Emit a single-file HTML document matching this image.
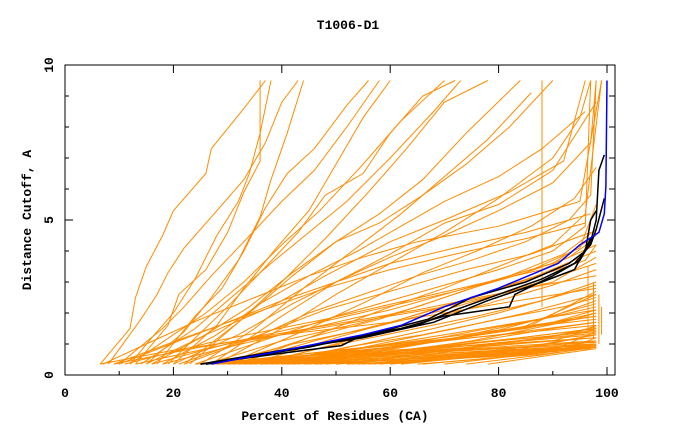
<!DOCTYPE html>
<html><head><meta charset="utf-8"><style>
html,body{margin:0;padding:0;background:#fff;}
svg{display:block;font-family:"Liberation Mono",monospace;font-weight:bold;font-size:13px;}
</style></head><body>
<svg id="chart" width="680" height="440" viewBox="0 0 680 440">
<text x="348" y="29" text-anchor="middle">T1006-D1</text>
<text x="335" y="420" text-anchor="middle">Percent of Residues (CA)</text>
<text transform="translate(31,220) rotate(-90)" text-anchor="middle">Distance Cutoff, A</text>
<g id="ticks"></g>
<g id="lines"></g>
<rect x="65" y="65" width="550" height="310" fill="none" stroke="#000" stroke-width="1"/>
</svg>
<script>
const xTicks=[0,20,40,60,80,100];
const xMinor=[10,30,50,70,90];
const yTicks=[0,5,10];
const yMinor=[1,2,3,4,6,7,8,9];
const orangeLines=[
[6.5,0.35,12,1.5,13,2.5,15,3.5,18,4.5,20,5.3,23,5.9,26,6.5,27,7.3,33,8.6,37,9.5],
[8,0.35,14,1.8,17,2.6,19,3.3,22,4.1,28,5.3,33,6.3,37,7.5,40,8.8,43,9.5],
[10,0.35,18,1.5,22,2.2,27,3.2,33,4.3,40,5.6,46,6.6,52,8,58,9.5],
[12,0.35,20,1.3,26,2.0,33,3.0,40,4.2,47,5.3,55,6.8,62,8.2,70,9.5],
[14,0.35,24,1.5,30,2.4,38,3.6,45,4.6,52,5.6,60,7,68,8.5,73,9.5],
[16,0.35,25,1.2,34,2.2,42,3.3,50,4.3,58,5.2,66,6.3,74,7.8,84,9.5],
[18,0.35,28,1.3,36,2.3,45,3.2,54,4.0,62,4.8,70,5.6,80,6.4,88,7.3,96,8.5],
[20,0.35,32,1.3,42,2.3,50,3.0,60,3.8,70,4.5,80,5.3,90,6.2,97,7.5,98,9.5],
[22,0.35,35,1.2,45,2,55,2.6,65,3.2,75,3.7,85,4.3,93,5,97,5.8,98,9.5],
[24,0.35,38,1.2,50,1.9,60,2.4,70,2.9,80,3.4,90,4,96,4.8,97,9.5],
[26,0.35,40,1.1,55,1.7,65,2.2,75,2.8,85,3.3,93,3.8,97,4.3],
[12,0.35,16,1.2,20,2.0,24,3.1,28,4.5,32,5.6,34,6.5,36,7.8,38,9.5],
[15,0.35,22,1.4,27,2.5,32,3.7,36,5.1,38,6.3,41,7.8,44,9.5],
[20,0.35,28,1.6,33,2.8,39,4.1,45,5.3,50,6.8,55,8.3,60,9.5],
[22,0.35,32,1.7,40,3,48,4.4,56,5.9,63,7.3,70,8.8,78,9.5],
[25,0.35,35,1.5,44,2.8,53,4,62,5.2,70,6.4,78,7.6,86,9.1],
[28,0.35,40,1.5,50,2.6,60,3.6,70,4.6,80,5.7,90,7,95,8.3,97,9.5],
[30,0.35,45,1.5,56,2.4,66,3.3,76,4,86,4.8,94,5.7,98,6.7],
[88,2.2,88,9.5],
[32,0.35,48,1.4,60,2.2,70,2.8,80,3.5,90,4.2,96,5.2,99,9.5],
[30,0.35,45,1.2,58,1.8,70,2.5,82,3.2,92,3.9,98,4.7],
[34,0.35,50,1.2,62,1.8,75,2.5,87,3.2,98,4.0],
[36,0.35,52,1.1,65,1.7,78,2.3,90,2.9,98,3.4],
[38,0.35,55,1.0,68,1.5,80,2.0,90,2.5,98,2.9],
[40,0.35,58,1.0,72,1.5,85,2.0,98,2.6],
[28,0.35,42,1.0,56,1.5,70,2.1,84,2.8,98,3.6],
[42,0.35,60,0.9,75,1.4,88,1.8,98,2.2],
[18,0.35,30,0.9,45,1.5,60,2.1,72,2.7,85,3.3,95,4.1,98,5.5],
[10,0.35,18,0.9,30,1.7,40,2.4,50,3.0,60,3.6,72,4.1,85,4.6,97,5.2],
[7,0.35,15,1.0,25,1.8,35,2.5,45,3.2,55,3.8,65,4.3,80,4.8,95,5.6,99,9.5],
[13,0.35,19,1.6,21,2.6,26,3.4,30,4.6,33,5.9,36,6.9,36,9.5],
[17,0.35,24,1.9,29,2.8,33,4.0,37,5.4,41,6.5,46,7.3,52,8.7,56,9.5],
[19,0.35,30,2.2,36,3.3,43,4.6,48,5.8,55,6.5,60,7.8,66,9.0,72,9.5],
[23,0.35,34,2.0,42,3.2,50,4.3,58,4.9,66,5.8,74,6.8,82,8.0,90,9.5],
[27,0.35,40,1.9,50,3.0,60,3.9,70,4.9,80,5.5,90,6.6,98,8.8],
[15,0.35,26,1.3,38,2.2,48,3.2,60,4.3,70,5.0,82,5.9,92,6.9,96,9.5],
[9,0.35,22,1.2,35,2.0,48,2.8,60,3.4,72,3.9,85,4.4,96,4.9],
[21,0.35,36,1.3,48,2.1,62,2.8,74,3.4,86,3.9,97,4.6],
[31,0.35,46,1.1,60,1.7,72,2.3,84,3.0,96,3.7,98,4.2],
[35,0.35,48,0.9,62,1.4,76,1.9,88,2.4,98,3.0],
[37,0.35,52,0.9,66,1.3,80,1.8,92,2.2,98,2.5],
[39,0.35,56,0.9,70,1.3,84,1.7,98,2.1],
[41,0.35,58,0.8,72,1.2,86,1.6,98,1.9],
[43,0.35,62,0.8,76,1.1,90,1.5,98,1.7],
[25,0.35,60,0.7,98,1.2],[27,0.35,65,0.8,98,1.5],[30,0.35,70,0.8,98,1.1],
[33,0.35,70,0.7,98,0.9],[36,0.35,75,0.7,98,1.0],[40,0.35,75,0.6,97,0.85],
[44,0.35,80,0.7,98,1.3],[48,0.35,85,0.8,98,1.0],[52,0.35,80,0.6,97,0.9],
[56,0.35,85,0.7,98,1.1],[60,0.35,90,0.8,98,1.4],[65,0.35,90,0.7,98,1.2],
[70,0.35,92,0.8,98,1.0],[26,0.35,55,0.8,80,1.3,98,1.7],[29,0.35,60,0.9,85,1.5,98,2.0],
[32,0.35,65,1.0,88,1.6,98,1.8],[35,0.35,70,1.1,90,1.7,98,2.1],[38,0.35,72,1.2,90,1.9,98,2.4],
[45,0.35,75,1.1,92,1.7,98,2.0],[50,0.35,80,1.0,95,1.4,98,1.6],[24,0.35,50,0.7,80,1.0,98,1.2],
[55,0.35,85,0.9,98,1.3],[62,0.35,88,0.8,98,1.1],[28,0.35,55,0.6,85,0.9,98,1.1],
[34,0.35,62,0.7,90,1.1,98,1.5],
[30,0.35,50,0.6,75,0.8,98,1.0],[32,0.35,52,0.65,78,0.85,98,1.05],[36,0.35,58,0.6,80,0.8,98,0.95],
[38,0.35,60,0.55,82,0.75,97,0.9],[42,0.35,64,0.6,85,0.8,98,1.0],[46,0.35,68,0.55,88,0.75,98,0.9],
[50,0.35,70,0.6,90,0.8,98,0.95],[54,0.35,74,0.6,92,0.85,98,1.0],[58,0.35,78,0.6,94,0.85,98,0.95],
[66,0.35,82,0.6,98,0.9],[74,0.35,88,0.65,98,0.9],[78,0.35,92,0.7,98,0.85],
[31,0.35,55,0.7,78,1.0,98,1.3],[37,0.35,60,0.75,80,1.1,98,1.4],[41,0.35,62,0.8,84,1.2,98,1.5],
[47,0.35,66,0.8,86,1.15,98,1.35],[53,0.35,70,0.8,88,1.2,98,1.45],[57,0.35,74,0.85,90,1.25,98,1.55],
[26,0.35,48,0.75,72,1.15,98,1.6],[28,0.35,50,0.8,75,1.25,98,1.9],[33,0.35,56,0.9,80,1.45,98,2.3],
[39,0.35,62,0.95,84,1.5,98,2.6],[44,0.35,66,1.0,86,1.6,98,2.7],
[98.5,1.0,98.5,2.6],[97.5,1.2,97.5,3.0],[96.5,1.5,96.5,3.5],[99,1.3,99,2.2],
[6.5,0.35,20,0.8,40,1.3,60,1.7,80,2.3,98,2.8],[9,0.35,25,0.9,45,1.5,65,2.1,85,2.8,98,3.2],
[13,0.35,30,1.0,50,1.6,70,2.2,90,3.0,98,3.8],[11,0.35,28,1.1,48,1.8,68,2.6,88,3.4,98,4.2],
[16,0.35,32,1.1,52,1.9,72,2.7,90,3.6,98,4.5]
];
const blackLines=[
[25,0.35,40,0.7,51,0.95,55,1.3,62,1.5,70,1.9,82,2.2,83,2.6,90,3.2,95,3.7,97,4.3,98,5,98.5,6.6,99.5,7.1],
[25,0.35,40,0.8,55,1.2,65,1.6,72,2.1,80,2.6,88,3.1,94,3.6,97,4.2,98,4.7,99.5,5.7],
[26,0.35,45,0.9,58,1.4,67,1.8,75,2.5,85,3.0,93,3.6,96,4.0,97,5.0,98,5.3],
[26,0.35,45,0.95,60,1.4,68,1.7,78,2.4,88,3.0,94,3.4,97,4.4]
];
const blueLine=[27,0.35,42,0.85,55,1.3,62,1.6,70,2.2,80,2.8,91,3.6,95,4.2,98.5,4.6,99.5,5.2,99.8,6.1,100,9.5];

const NS="http://www.w3.org/2000/svg";
function sx(v){return 65+v*5.42;}
function sy(v){return 375-v*31;}
const tg=document.getElementById('ticks');
function mk(tag,attrs,parent){const e=document.createElementNS(NS,tag);for(const k in attrs)e.setAttribute(k,attrs[k]);parent.appendChild(e);return e;}
xTicks.forEach(v=>{
  const t=mk('line',{x1:sx(v),x2:sx(v),y1:375,y2:367,stroke:'#000'},tg);
  
  
  const t2=mk('line',{x1:sx(v),x2:sx(v),y1:65,y2:73,stroke:'#000'},tg);
  
  
  const l=mk('text',{x:sx(v),y:397,'text-anchor':'middle'},tg);
  l.textContent=v;
  
  
});
xMinor.forEach(v=>{
  const t=mk('line',{x1:sx(v),x2:sx(v),y1:375,y2:371,stroke:'#000'},tg);
  
  
});
yTicks.forEach(v=>{
  const t=mk('line',{x1:65,x2:73,y1:sy(v),y2:sy(v),stroke:'#000'},tg);
  
  
  const t2=mk('line',{x1:607,x2:615,y1:sy(v),y2:sy(v),stroke:'#000'},tg);
  
  
  const l=mk('text',{transform:'translate(53,'+sy(v)+') rotate(-90)','text-anchor':'middle'},tg);
  l.textContent=v;
  
  
});
yMinor.forEach(v=>{
  const t=mk('line',{x1:65,x2:69,y1:sy(v),y2:sy(v),stroke:'#000'},tg);
  
  
  const t2=mk('line',{x1:609,x2:615,y1:sy(v),y2:sy(v),stroke:'#000'},tg);
  
  
});
const lg=document.getElementById('lines');
function pts(a){let s=[];for(let i=0;i<a.length;i+=2)s.push(sx(a[i]).toFixed(1)+','+sy(a[i+1]).toFixed(1));return s.join(' ');}
orangeLines.forEach(a=>{
  const p=mk('polyline',{points:pts(a),fill:'none',stroke:'#ff8c00','stroke-width':1},lg);
  
  
});
blackLines.forEach(a=>{
  const p=mk('polyline',{points:pts(a),fill:'none',stroke:'#000','stroke-width':1.5},lg);
  
  
});
const bl=mk('polyline',{points:pts(blueLine),fill:'none',stroke:'#0000ff','stroke-width':1.5},lg);


</script>
</body></html>
